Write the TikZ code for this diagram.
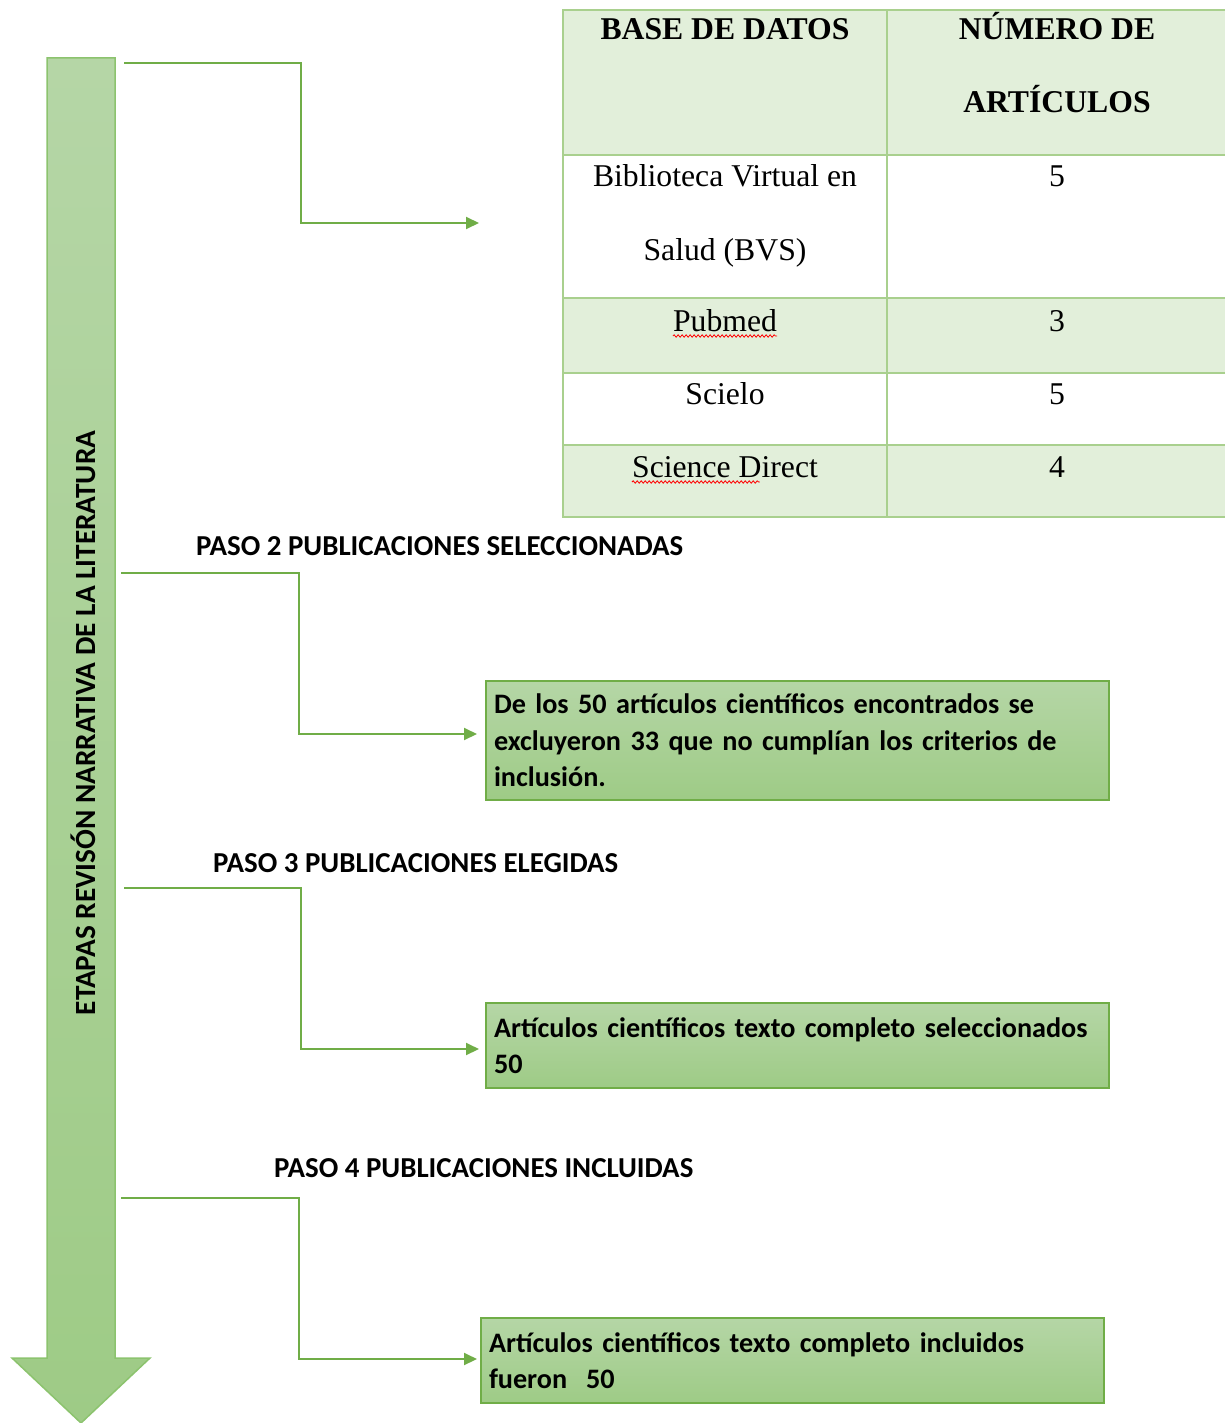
\documentclass[tikz,border=0pt]{standalone}
\usepackage{fontspec}
\setmainfont{Liberation Serif}
\newfontfamily\calfont{Carlito}
\usetikzlibrary{arrows.meta,decorations.pathmorphing}
\definecolor{gline}{HTML}{70AD47}
\definecolor{gborder}{HTML}{A9D08E}
\definecolor{gpale}{HTML}{E2EFDA}
\definecolor{gtop}{HTML}{B5D6A6}
\definecolor{gbot}{HTML}{9ECB86}
\definecolor{aborder}{HTML}{8CC36E}
\tikzset{
  conn/.style={draw=gline, line width=2pt, -{Triangle[length=13pt,width=12pt]}},
  cell/.style={draw=gborder, line width=1.6pt},
  celltext/.style={anchor=base, inner sep=0pt, font=\fontsize{31.7}{73}\selectfont},
  headtext/.style={celltext, font=\fontsize{31.7}{73}\selectfont\bfseries},
  pasolabel/.style={anchor=base west, inner sep=0pt, font=\calfont\bfseries\fontsize{28.9}{34}\selectfont},
  stepbox/.style={draw=gline, line width=1.6pt, top color=gtop, bottom color=gbot,
    minimum width=623pt, text width=607pt, align=left, inner xsep=8pt,
    font=\calfont\bfseries\fontsize{28.2}{36.5}\selectfont},
  squiggle/.style={draw=red, line width=0.8pt, decorate, decoration={snake, amplitude=1.2pt, segment length=4pt}}
}
\begin{document}
\begin{tikzpicture}[x=1pt,y=-1pt]
\useasboundingbox (0,0) rectangle (1225,1423);
% big arrow
\shade[top color=gtop, bottom color=gbot, draw=aborder, line width=1.5pt]
  (47,58) -- (115,58) -- (115,1358) -- (150,1358) -- (81,1423) -- (12,1358) -- (47,1358) -- cycle;
\node[rotate=90, inner sep=0pt, font=\calfont\bfseries\fontsize{29.3}{34}\selectfont] (title) at (83,723) {ETAPAS REVISÓN NARRATIVA DE LA LITERATURA};
% table
\fill[gpale] (563,10) rectangle (1227,155);
\fill[gpale] (563,298) rectangle (1227,373);
\fill[gpale] (563,445) rectangle (1227,517);
\draw[cell] (563,10) rectangle (1227,517);
\draw[cell] (887,10) -- (887,517);
\draw[cell] (563,155) -- (1227,155);
\draw[cell] (563,298) -- (1227,298);
\draw[cell] (563,373) -- (1227,373);
\draw[cell] (563,445) -- (1227,445);
\node[headtext] (h1) at (725,40) {BASE DE DATOS};
\node[headtext] (h2a) at (1057,40) {NÚMERO DE};
\node[headtext] (h2b) at (1057,113) {ARTÍCULOS};
\node[celltext] (r1a) at (725,187) {Biblioteca Virtual en};
\node[celltext] (r1b) at (725,260) {Salud (BVS)};
\node[celltext] (r1n) at (1057,187) {5};
\node[celltext] (r2) at (725,331) {Pubmed};
\node[celltext] (r2n) at (1057,331) {3};
\node[celltext] (r3) at (725,404) {Scielo};
\node[celltext] (r3n) at (1057,404) {5};
\node[celltext] (r4) at (725,477) {Science Direct};
\node[celltext] (r4n) at (1057,477) {4};
\path[squiggle] ([yshift=-5pt]r2.base west) -- ([yshift=-5pt]r2.base east);
\path[squiggle] ([yshift=-5pt]r4.base west) -- ++(128,0);
% labels
\node[pasolabel] (p2) at (196,555) {PASO 2 PUBLICACIONES SELECCIONADAS};
\node[pasolabel] (p3) at (213,872) {PASO 3 PUBLICACIONES ELEGIDAS};
\node[pasolabel] (p4) at (274,1177) {PASO 4 PUBLICACIONES INCLUIDAS};
% boxes
\node[stepbox, minimum height=119pt] (b2) at (797.5,740.5) {De los 50 artículos científicos encontrados se\\excluyeron 33 que no cumplían los criterios de\\inclusión.};
\node[stepbox, minimum height=85pt] (b3) at (797.5,1045.5) {Artículos científicos texto completo seleccionados\\50};
\node[stepbox, minimum height=85pt] (b4) at (792.5,1360.5) {Artículos científicos texto completo incluidos\\fueron~ 50};
% connectors
\coordinate (s1) at (124,63);  \coordinate (t1) at (479,223);
\coordinate (s2) at (121,573); \coordinate (t2) at (477,734);
\coordinate (s3) at (124,888); \coordinate (t3) at (479,1049);
\coordinate (s4) at (121,1198);\coordinate (t4) at (477,1359);
\draw[conn] (s1) -- (301,63) -- (301,223) -- (t1);
\draw[conn] (s2) -- (299,573) -- (299,734) -- (t2);
\draw[conn] (s3) -- (301,888) -- (301,1049) -- (t3);
\draw[conn] (s4) -- (299,1198) -- (299,1359) -- (t4);
\end{tikzpicture}
\end{document}
